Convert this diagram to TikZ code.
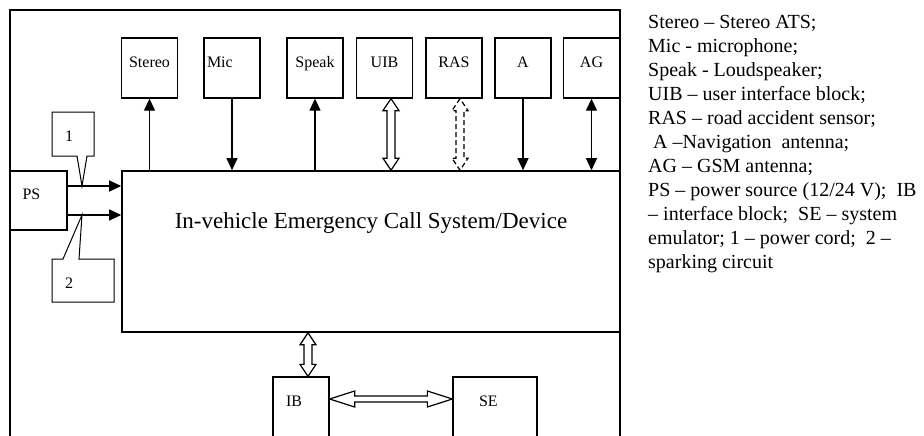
\documentclass[tikz,border=0pt]{standalone}
\usepackage{fontspec}
\setmainfont{Liberation Serif}
\usetikzlibrary{arrows.meta,calc}

\tikzset{
  blk/.style={draw, line width=1.3pt, minimum width=56pt, minimum height=60pt, inner sep=0pt,
    text height=11pt, text depth=13pt, font=\fontsize{16}{18}\selectfont},
  sarr/.style={line width=1.2pt, -{Triangle[length=12pt,width=11pt]}},
  darr/.style={line width=1.2pt, {Triangle[length=12pt,width=11pt]}-{Triangle[length=12pt,width=11pt]}},
  blockarr/.style={line width=1.2pt, line join=miter, fill=white},
  callout/.style={line width=1pt, line join=miter},
}

\newcommand{\vblock}[3][]{%
  \draw[blockarr,#1] (#2) -- ($(#2)+(-8,12)$) -- ($(#2)+(-4,12)$) -- ($(#3)+(-4,-12)$)
    -- ($(#3)+(-8,-12)$) -- (#3) -- ($(#3)+(8,-12)$) -- ($(#3)+(4,-12)$)
    -- ($(#2)+(4,12)$) -- ($(#2)+(8,12)$) -- cycle;}
\newcommand{\hblock}[3][]{%
  \draw[blockarr,#1] (#2) -- ($(#2)+(25,-8)$) -- ($(#2)+(25,-3)$) -- ($(#3)+(-25,-3)$)
    -- ($(#3)+(-25,-8)$) -- (#3) -- ($(#3)+(-25,8)$) -- ($(#3)+(-25,3)$)
    -- ($(#2)+(25,3)$) -- ($(#2)+(25,8)$) -- cycle;}

\begin{document}
\begin{tikzpicture}[x=1pt,y=-1pt]
\useasboundingbox (0,0) rectangle (924,436);
\draw[line width=2.6pt] (10,10) rectangle (620,437);

\node[draw, line width=1.6pt, minimum width=498pt, minimum height=161pt, inner sep=0pt,
  text height=16pt, text depth=63pt, font=\fontsize{23}{26}\selectfont] (main) at (371,251.5)
  {In-vehicle Emergency Call System/Device};

\node[blk] (stereo) at (149.5,68) {Stereo};
\node[blk, text width=50pt, align=left] (mic) at (232,68) {Mic};
\node[blk] (speak) at (315,68) {Speak};
\node[blk] (uib) at (384.5,68) {UIB};
\node[blk] (ras) at (454,68) {RAS};
\node[blk] (ant) at (523,68) {A};
\node[blk] (agsm) at (591.5,68) {AG};

\node[blk, minimum width=57pt, minimum height=59pt, text width=32pt, align=left] (ps) at (38.5,200.5) {PS};
\node[blk, text width=30pt, align=left] (ib) at (301,407) {IB};
\node[blk, minimum width=84pt, text width=32pt, align=left] (se) at (495,407) {SE};

\draw[sarr] (stereo.south |- main.north) -- (stereo.south);
\draw[sarr] (mic.south) -- (mic.south |- main.north);
\draw[sarr] (speak.south |- main.north) -- (speak.south);
\coordinate (uibT) at ([xshift=6.5pt]uib.south);
\coordinate (uibB) at (uibT |- main.north);
\vblock{uibT}{uibB}
\coordinate (rasT) at ([xshift=6pt]ras.south);
\coordinate (rasB) at (rasT |- main.north);
\vblock[dash pattern=on 5pt off 3pt]{rasT}{rasB}
\draw[sarr] (ant.south) -- (ant.south |- main.north);
\draw[darr] (agsm.south |- main.north) -- (agsm.south);

\coordinate (ps1) at ([yshift=14.5pt]ps.east);
\coordinate (ps2) at ([yshift=-14.5pt]ps.east);
\draw[sarr] (ps1) -- (ps1 -| main.west);
\draw[sarr] (ps2) -- (ps2 -| main.west);

\coordinate (p1) at (82,186);
\coordinate (p2) at (82,215);
\draw[callout] (52,112) -- (94,112) -- (94,156) -- (87,156) -- (p1) -- (77,156) -- (52,156) -- cycle;
\node[font=\fontsize{16}{18}\selectfont] (n1) at (69,136) {1};
\draw[callout] (52,259) -- (63,259) -- (p2) -- (79,259) -- (114,259) -- (114,302) -- (52,302) -- cycle;
\node[font=\fontsize{16}{18}\selectfont] (n2) at (69,283) {2};

\coordinate (ibB) at ([xshift=7pt]ib.north);
\coordinate (ibT) at (ibB |- main.south);
\vblock{ibT}{ibB}
\coordinate (ibR) at ([yshift=8pt]ib.east);
\coordinate (seL) at (ibR -| se.west);
\hblock{ibR}{seL}

\node[anchor=north west, inner sep=0pt, align=left, font=\fontsize{20}{24}\selectfont] (legend) at (648,15)
  {Stereo – Stereo ATS;\\
   Mic - microphone;\\
   Speak - Loudspeaker;\\
   UIB – user interface block;\\
   RAS – road accident sensor;\\
   \hspace*{5pt}A –Navigation\ \ antenna;\\
   AG – GSM antenna;\\
   PS – power source (12/24 V);\ \ IB\\
   – interface block;\ \ SE – system\\
   emulator; 1 – power cord;\ \ 2 –\\
   sparking circuit};
\end{tikzpicture}
\end{document}
